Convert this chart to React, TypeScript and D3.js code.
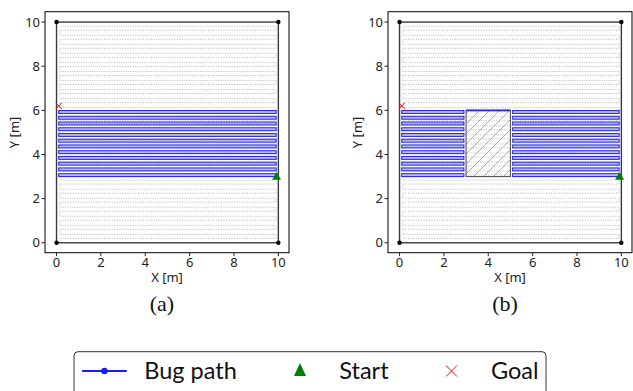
import React from "react";
import * as d3 from "d3";

// Field and tick settings
const xTicks = [0, 2, 4, 6, 8, 10];
const yTicks = [0, 2, 4, 6, 8, 10];
const fieldCorners: [number, number][] = [[0, 0], [0, 10], [10, 0], [10, 10]];

// Planned coverage lanes (lower edge of each pass pair) and pass separation
const plannedLaneY = [0.2, 0.61, 1.02, 1.43, 1.84, 2.25, 2.66, 3.07, 3.48, 3.89, 4.3, 4.71, 5.12, 5.53, 5.94, 6.35, 6.76, 7.17, 7.58, 7.99, 8.4, 8.81, 9.22, 9.63];
const plannedPairGap = 0.18;
const plannedX: [number, number] = [0.15, 9.9];

// Bug path lanes (lower edge of each loop) and loop height
const bugLaneY = [3.0, 3.26, 3.52, 3.78, 4.04, 4.3, 4.56, 4.82, 5.08, 5.34, 5.6, 5.86];
const bugLaneGap = 0.13;
const bugSpansA: [number, number][] = [[0.1, 9.9]];
const bugSpansB: [number, number][] = [[0.1, 2.9], [5.1, 9.9]];

// Obstacle in panel (b): [x0, x1, y0, y1]
const obstacle = [3, 5, 3, 6];

const startPt: [number, number] = [9.92, 3.0];
const goalPt: [number, number] = [0.1, 6.2];

const panels = [
  { id: "a", left: 45, spans: bugSpansA, obstacle: false, caption: "(a)" },
  { id: "b", left: 388, spans: bugSpansB, obstacle: true, caption: "(b)" },
];

const W = 244;
const TOP = 11.7;
const H = 241;
const tickFont = "'Noto Sans', 'Open Sans', sans-serif";
const legendFont = "Lato, 'Noto Sans', sans-serif";

function Panel({ left, spans, obstacle: hasObs, caption, id }: any) {
  const x = d3.scaleLinear().domain([-0.52, 10.48]).range([left, left + W]);
  const y = d3.scaleLinear().domain([-0.45, 10.47]).range([TOP + H, TOP]);

  const line = d3.line<[number, number]>().x((d) => x(d[0])).y((d) => y(d[1]));
  const planned = plannedLaneY.map((y0, i) => {
    const y1 = y0 + plannedPairGap;
    return (
      <g key={i}>
        <path d={line([[plannedX[0], y0], [plannedX[1], y0]])!} stroke="#a8a8a8" strokeWidth={0.9} strokeDasharray="1 1.6" fill="none" />
        <path d={line([[plannedX[1], y0], [plannedX[1], y1], [plannedX[0], y1]])!} stroke="#c2c2c2" strokeWidth={0.9} strokeDasharray="1 0.8" fill="none" />
        {i < plannedLaneY.length - 1 && (
          <path d={line([[plannedX[0], y1], [plannedX[0], plannedLaneY[i + 1]]])!} stroke="#c2c2c2" strokeWidth={0.9} strokeDasharray="1 0.8" fill="none" />
        )}
      </g>
    );
  });

  const bug = spans.flatMap(([x0, x1]: [number, number], si: number) =>
    bugLaneY.map((y0, i) => {
      const y1 = y0 + bugLaneGap;
      return (
        <g key={`${si}-${i}`}>
          <rect x={x(x0)} y={y(y1)} width={x(x1) - x(x0)} height={y(y0) - y(y1)} fill="#c9cbf5" stroke="#2a2ae8" strokeWidth={1.1} />
          <line x1={x(x0)} x2={x(x1)} y1={(y(y0) + y(y1)) / 2} y2={(y(y0) + y(y1)) / 2} stroke="#7b7bef" strokeWidth={0.6} strokeDasharray="1 1.5" />
        </g>
      );
    })
  );

  const [ox0, ox1, oy0, oy1] = obstacle;
  const sx = x(startPt[0]), sy = y(startPt[1]);
  const gx = x(goalPt[0]), gy = y(goalPt[1]);

  return (
    <g>
      <defs>
        <pattern id={`hatch-${id}`} patternUnits="userSpaceOnUse" width={10} height={10}>
          <path d="M-1,1 L1,-1 M0,10 L10,0 M9,11 L11,9" stroke="#9a9a9a" strokeWidth={0.8} />
        </pattern>
      </defs>
      <rect x={left} y={TOP} width={W} height={H} fill="white" stroke="black" strokeWidth={1} />
      {planned}
      {/* field boundary */}
      <rect x={x(0)} y={y(10)} width={x(10) - x(0)} height={y(0) - y(10)} fill="none" stroke="#3a3a3a" strokeWidth={1.4} />
      {fieldCorners.map(([cx, cy], i) => (
        <circle key={i} cx={x(cx)} cy={y(cy)} r={2.2} fill="black" />
      ))}
      {bug}
      {hasObs && (
        <g>
          <rect x={x(ox0)} y={y(oy1)} width={x(ox1) - x(ox0)} height={y(oy0) - y(oy1)} fill={`url(#hatch-${id})`} stroke="#555" strokeWidth={1.1} />
          <line x1={x(ox0)} x2={x(ox1)} y1={y(oy1)} y2={y(oy1)} stroke="#2a2ae8" strokeWidth={1.6} />
        </g>
      )}
      <path d={`M${sx},${sy - 4.5} L${sx + 4.5},${sy + 3.2} L${sx - 4.5},${sy + 3.2} Z`} fill="green" />
      <path d={`M${gx - 3},${gy - 3} L${gx + 3},${gy + 3} M${gx - 3},${gy + 3} L${gx + 3},${gy - 3}`} stroke="red" strokeWidth={1} />
      {/* axes */}
      {xTicks.map((t) => (
        <g key={t}>
          <line x1={x(t)} x2={x(t)} y1={TOP + H} y2={TOP + H + 3.5} stroke="#222" />
          <text x={x(t)} y={267} textAnchor="middle" fontSize={13} fontFamily={tickFont} fill="#222">{t}</text>
        </g>
      ))}
      {yTicks.map((t) => (
        <g key={t}>
          <line x1={left} x2={left - 3.5} y1={y(t)} y2={y(t)} stroke="#222" />
          <text x={left - 5} y={y(t) + 4.5} textAnchor="end" fontSize={13} fontFamily={tickFont} fill="#222">{t}</text>
        </g>
      ))}
      <text x={left + W / 2} y={282} textAnchor="middle" fontSize={13} fontFamily={tickFont} fill="#222">X [m]</text>
      <text transform={`translate(${left - 26},${y(5)}) rotate(-90)`} textAnchor="middle" fontSize={13} fontFamily={tickFont} fill="#222">Y [m]</text>
      <text x={left + W / 2 - 5} y={311} textAnchor="middle" fontSize={22} fontFamily="'Liberation Serif', 'DejaVu Serif', serif" fill="#111">{caption}</text>
    </g>
  );
}

export default function App() {
  return (
    <svg width={633} height={391} style={{ position: "absolute", left: 0, top: 0, background: "white" }}>
      {panels.map((p) => (
        <Panel key={p.id} {...p} />
      ))}
      {/* legend */}
      <rect x={74} y={351.7} width={472} height={60} rx={4} fill="white" stroke="#333" strokeWidth={1} />
      <line x1={82} x2={126.7} y1={371} y2={371} stroke="#1a1aff" strokeWidth={1.8} />
      <circle cx={104.4} cy={371} r={3.2} fill="#1a1aff" />
      <text x={144.3} y={379} fontSize={23.5} fontFamily={legendFont} fill="#111">Bug path</text>
      <path d="M300,363 L306,376 L294,376 Z" fill="green" />
      <text x={339.3} y={379} fontSize={23.5} fontFamily={legendFont} fill="#111">Start</text>
      <path d="M446,365.5 L457,376.5 M446,376.5 L457,365.5" stroke="red" strokeWidth={1} />
      <text x={491} y={379} fontSize={23.5} fontFamily={legendFont} fill="#111">Goal</text>
    </svg>
  );
}
